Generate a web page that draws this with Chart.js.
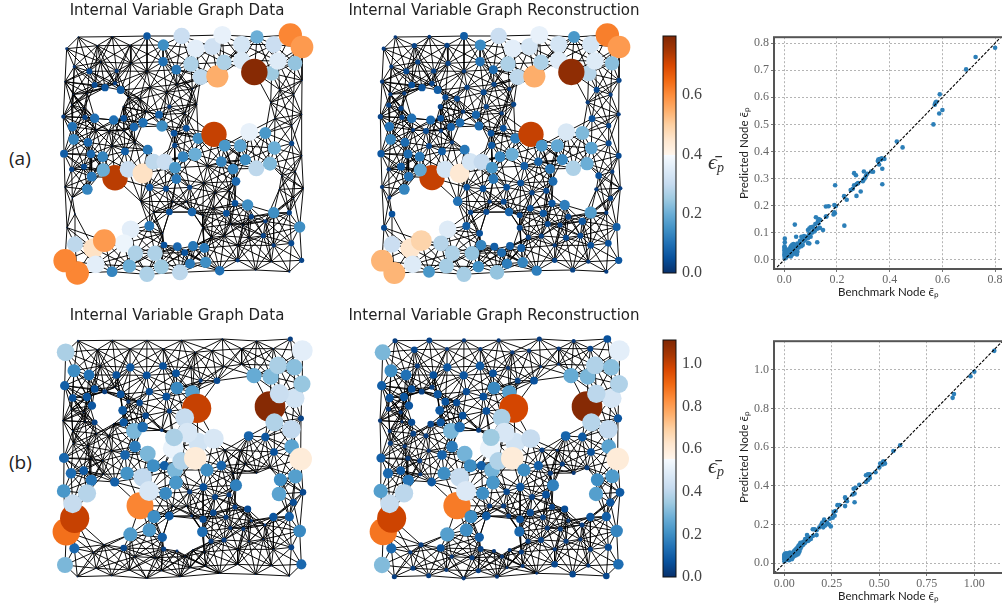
<!DOCTYPE html>
<html><head><meta charset="utf-8">
<script src="https://cdn.jsdelivr.net/npm/chart.js@4/dist/chart.umd.min.js"></script>
<style>
html,body{margin:0;padding:0;background:#fff;overflow:hidden;width:1002px;height:609px}
canvas{position:absolute;display:block}
.tag{position:absolute;font:19px "Open Sans",sans-serif;color:#222;left:9px}
</style></head><body>
<div class="tag" style="top:145px">(a)</div>
<div class="tag" style="top:449px">(b)</div>
<script>
// Panel (a) nodes
const nodeAX=[291,340,395,437,487,517,575,621,671,721,
756,339,379,423,452,502,522,575,665,613,
684,735,118,134,165,212,195,73,200,50,
40,105,134,191,221,67,252,279,327,336,
358,372,409,374,71,114,42,123,158,225,
293,65,102,125,112,195,160,234,278,310,
344,375,379,299,348,419,399,435,445,492,
598,646,524,571,673,725,514,586,549,619,
660,558,555,593,529,604,671,718,646,358,
426,298,749,640,724,671,755,563,718,342,
382,429,463,404,420,467,509,75,242,222,
130,163,82,45,137,186,238,256,315,291,
334,390];
const nodeAY=[108,135,108,145,140,105,133,111,134,105,
141,185,209,192,231,229,187,181,220,216,
183,190,214,255,263,270,250,200,213,146,
350,352,355,360,355,380,381,368,344,378,
320,400,385,436,418,427,461,462,470,454,
449,508,500,530,568,533,510,508,520,485,
486,503,537,562,566,562,470,463,415,403,
396,399,437,437,444,430,485,479,507,505,
491,544,610,615,640,650,638,638,664,636,
636,678,681,707,730,736,781,781,815,735,
740,738,744,758,791,787,812,733,688,730,
745,722,819,782,793,815,798,760,760,823,
800,817];
const nodeAData=[.06,.145,.31,.36,.32,.37,.33,.2,.31,.61,
.58,.1,.11,.27,.29,.55,.27,.34,.25,.79,
.35,.24,.04,.04,.06,.07,.02,.012,.02,.01,
.02,.03,.1,.1,.05,.1,.085,.1,.07,.145,
.02,.05,.05,.03,.13,.085,.07,.085,.13,.07,
.11,.03,.04,.11,.13,.73,.2,.31,.46,.29,
.31,.16,.11,.06,.04,.03,.13,.2,.145,.72,
.37,.16,.16,.18,.2,.03,.13,.145,.13,.29,
.22,.085,.05,.145,.05,.03,.145,.03,.02,.05,
.085,.11,.145,.03,.04,.02,.03,.02,.005,.05,
.085,.11,.11,.05,.11,.145,.1,.29,.36,.38,
.46,.58,.61,.61,.36,.13,.2,.27,.27,.27,
.25,.29];
const nodeARecon=[.07,.14,.31,.36,.33,.37,.33,.16,.33,.62,
.58,.1,.09,.27,.29,.55,.27,.35,.28,.78,
.35,.23,.04,.05,.06,.07,.03,.02,.03,.02,
.03,.03,.1,.09,.05,.1,.07,.09,.08,.09,
.03,.05,.05,.06,.13,.09,.06,.09,.11,.07,
.11,.02,.07,.1,.13,.72,.19,.33,.44,.33,
.3,.16,.11,.05,.05,.05,.13,.2,.12,.72,
.34,.22,.16,.19,.18,.04,.08,.14,.11,.27,
.2,.09,.06,.12,.06,.04,.17,.02,.06,.04,
.08,.07,.07,.04,.05,.05,.06,.03,.02,.13,
.07,.07,.07,.09,.12,.13,.12,.31,.35,.28,
.45,.49,.54,.54,.35,.16,.26,.27,.24,.26,
.15,.24];
// Panel (a) nodes that are almost zero in the benchmark data
const meshAX=[85,187,240,142,152,243,291,45,300,350,
381,427,440,235,270,70,112,65,102,220,
288,404,138,177,222,255,186,472,461,272,
368,410,495,538,490,311,458,579,542,484,
523,597,563,617,664,338,458,51,75,67,
45,695,736,755,688,760,731,725,755,675,
662,731,689,756];
const meshAY=[111,110,136,137,186,190,214,245,262,277,
253,267,313,292,296,283,280,315,325,320,
335,340,390,393,392,427,438,498,549,604,
605,605,578,572,625,637,646,675,672,712,
708,713,736,810,785,700,683,683,642,593,
561,527,515,467,568,565,595,377,343,356,
307,284,269,241];
const meshARecon=[.015,.015,.03,.03,.03,.03,.02,.02,.03,.04,
.03,.02,.03,.04,.04,.02,.02,.03,.03,.03,
.02,.02,.02,.04,.02,.02,.04,.07,.05,.1,
.02,.04,.03,.04,.05,.03,.04,.03,.04,.03,
.03,.04,.02,.03,.02,.05,.04,.04,.05,.02,
.02,.05,.02,.04,.02,.02,.03,.03,.02,.05,
.02,.02,.04,.03];
// Panel (b) nodes
const nodeBX=[84,47,72,117,44,68,111,134,164,212,
126,199,241,290,339,378,381,427,298,349,
235,269,218,287,358,440,404,660,734,688,
134,221,252,278,445,412,370,372,491,255,
225,293,42,63,101,124,194,231,278,310,
343,375,394,436,471,514,378,347,270,297,
312,358,241,298,337,457,221,341,73,45,
49,74,68,111,41,558,691,736,687,759,
730,718,670,749,724,754,612,662,684,733,
756,757,721,501,452,596,646,672,724,753,
673,725,752,460,419,495,537,555,593,490,
528,459,425,604,541,580,645,483,522,597,
640,381,335];
const nodeBY=[107,142,197,210,242,279,276,252,260,268,
302,210,187,211,183,205,249,262,260,275,
290,293,316,332,318,310,338,305,280,266,
352,352,378,366,413,383,430,397,401,425,
450,446,459,505,497,526,531,505,517,482,
482,495,468,460,495,482,533,565,602,558,
635,633,688,675,697,680,729,732,730,780,
680,640,596,565,558,541,524,514,567,562,
592,635,636,678,727,778,212,215,181,187,
237,137,102,227,227,393,396,441,373,340,
352,425,462,546,560,576,569,606,612,623,
637,643,633,647,669,672,660,709,705,709,
703,738,376];
const nodeBData=[.005,.37,.2,.14,.1,.07,.08,.07,.03,.07,
.08,.07,.08,.07,.07,.07,.19,.24,.06,.07,
.02,.05,.09,.05,.03,1.0,.42,1.1,.45,.43,
.04,.08,.3,.13,.45,.47,.52,.37,.47,.16,
.11,.3,.12,.13,.09,.15,.1,.21,.41,.2,
.1,.3,.38,.6,.2,.11,.22,.19,.85,.47,
.2,.09,.23,.22,.1,.13,.05,.03,.12,.3,
.89,1.0,.42,.39,.22,.17,.2,.24,.25,.05,
.06,.1,.08,.19,.04,.12,.27,.31,.37,.32,
.34,.5,.03,.05,.02,.11,.08,.07,.41,.04,
.38,.25,.6,.07,.03,.04,.03,.03,.06,.05,
.03,.06,.01,.01,.02,.02,.01,.03,.03,.005,
.004,.01,.015];
const nodeBRecon=[.03,.3,.2,.14,.1,.08,.08,.07,.04,.08,
.08,.07,.08,.08,.09,.07,.19,.24,.06,.07,
.07,.06,.09,.07,.07,.98,.37,1.1,.46,.4,
.06,.08,.3,.13,.45,.47,.52,.35,.42,.16,
.11,.29,.1,.12,.09,.15,.09,.2,.42,.2,
.1,.29,.38,.6,.2,.1,.22,.2,.87,.48,
.2,.09,.24,.2,.1,.12,.07,.04,.12,.31,
.88,.99,.42,.4,.24,.17,.2,.23,.24,.09,
.08,.1,.08,.18,.06,.13,.27,.3,.38,.32,
.38,.5,.07,.07,.04,.11,.09,.07,.41,.08,
.39,.25,.6,.08,.05,.04,.07,.04,.06,.06,
.04,.07,.03,.02,.03,.03,.03,.03,.04,.03,
.02,.02,.03];
const meshBX=[187,291,395,517,620,142,240,340,436,486,
575,670,151,423,521,575,195,64,101,39,
105,191,139,68,177,70,113,185,123,158,
160,525,571,620,586,660,550,368,410,162,
130,254,315,405,428,463,563,670,138,238,
334,420,467,509,563,664,82,185,290,390,
617,718];
const meshBY=[106,106,106,102,108,134,132,132,142,137,
131,131,183,189,185,178,247,312,322,347,
350,357,386,378,392,415,424,437,460,467,
508,435,436,504,477,488,505,603,603,719,
742,755,758,755,735,741,733,733,790,795,
797,788,783,805,778,782,815,812,820,815,
808,813];
const meshBRecon=[.04,.02,.02,.03,.02,.05,.02,.02,.02,.02,
.02,.04,.03,.02,.01,.01,.03,.03,.02,.02,
.01,.05,.04,.02,.03,.03,.02,.02,.03,.03,
.02,.03,.01,.02,.03,.03,.03,.03,.03,.03,
.02,.02,.03,.02,.02,.03,.02,.03,.03,.02,
.03,.01,.02,.01,.05,.02,.03,.03,.02,.02,
.05,.05];
const meshBenchmarkValue=0.002;
// Openings in the part: no connection crosses them
const holeAX=[175,320,400,170,625,550], holeAY=[310,420,690,630,550,310], holeAR=[46,40,52,88,64,98];
const holeBX=[172,320,398,165,625,555], holeBY=[312,420,690,620,560,310], holeBR=[44,40,52,74,62,88];
// Benchmark vs predicted scatter
const scatterAX=[.8,.726,.69,.59,.577,.574,.571,.588,.6,.566,.427,.449,.355,.357,.362,.368,.37,.38,.372,.36,.372,.302,.33,.337,.31,.315,.305,.3,.298,.265,.272,.28,.275,.265,.252,.26,.29,.274,.193,.227,.237,.228,.19,.195,.158,.168,.192,.19,.187,.16,.158,.136,.13,.12,.127,.13,.118,.147,.135,.125,.125,.04,.045,.108,.1,.095,.09,.112,.115,.105,.095,.1,.09,.085,.095,.09,.075,.07,.065,.06,.075,.07,.065,.055,.05,.045,.04,.035,.03,.03,.025,.04,.035,.03,.025,.02,.045,.05,.048,.02,.025,.015,.01,.008,.005,.002,.002,.001,.001,.001,.001,.002,.001,.001,.001,.002,.002,.005,.008,.012,.015,.018,.022,.03,.03,.035,.06,.08,.055];
const scatterAY=[.783,.749,.703,.611,.583,.581,.573,.54,.553,.5,.437,.415,.365,.37,.372,.37,.375,.372,.336,.352,.279,.326,.326,.325,.31,.318,.3,.295,.29,.32,.312,.283,.28,.275,.258,.262,.252,.236,.275,.235,.222,.126,.202,.198,.197,.198,.172,.175,.167,.16,.16,.148,.15,.157,.14,.135,.132,.11,.118,.115,.065,.13,.085,.122,.12,.115,.11,.11,.105,.1,.095,.085,.08,.085,.06,.062,.088,.08,.085,.07,.07,.055,.05,.055,.06,.05,.055,.058,.055,.048,.05,.04,.035,.03,.025,.03,.03,.03,.02,.018,.012,.015,.02,.01,.012,.078,.065,.05,.045,.04,.035,.03,.025,.02,.015,.01,.005,.025,.032,.038,.025,.035,.042,.04,.02,.022,.062,.075,.045];
const scatterBX=[1.105,1,.98,.893,.886,.61,.574,.53,.525,.517,.505,.5,.52,.48,.44,.43,.45,.45,.44,.43,.395,.375,.365,.37,.36,.37,.32,.325,.33,.32,.28,.29,.27,.26,.265,.255,.24,.245,.235,.225,.21,.2,.215,.205,.185,.195,.16,.15,.17,.17,.15,.14,.12,.125,.13,.11,.1,.11,.125,.085,.09,.08,.075,.07,.065,.06,.085,.08,.075,.07,.06,.05,.05,.04,.045,.035,.03,.025,.02,.015,.01,.005,.001,.001,.001,.001,.001,.001,.001,.005,.01,.01,.015,.02,.02,.025,.03,.03,.04,.05,.06,.07,.08,.09,.1,.055,.065];
const scatterBY=[1.098,.99,.967,.875,.855,.61,.58,.515,.525,.51,.515,.495,.525,.47,.46,.455,.46,.44,.43,.42,.405,.39,.385,.36,.355,.315,.34,.33,.32,.295,.3,.3,.27,.265,.245,.235,.23,.19,.2,.21,.225,.21,.195,.185,.185,.2,.175,.175,.17,.145,.14,.125,.145,.135,.12,.125,.11,.105,.115,.105,.1,.095,.09,.08,.075,.07,.075,.06,.05,.045,.055,.06,.045,.04,.03,.05,.055,.05,.05,.05,.05,.05,.045,.04,.035,.03,.025,.02,.01,.015,.025,.04,.02,.025,.035,.015,.025,.035,.02,.035,.04,.065,.08,.085,.095,.065,.06];
// Ticks and ranges
const ticksAX=[0,.2,.4,.6,.8], ticksAY=[0,.1,.2,.3,.4,.5,.6,.7,.8];
const ticksBX=[0,.25,.5,.75,1], ticksBY=[0,.2,.4,.6,.8,1];
const barTicksA=[0,.2,.4,.6], barTicksB=[0,.2,.4,.6,.8,1];
const vmaxA=0.8, vmaxB=1.1125;
const blues=['#08306b','#08519c','#2171b5','#4292c6','#6baed6','#9ecae1','#c6dbef','#deebf7','#f7fbff'];
const oranges=['#fff5eb','#fee6ce','#fdd0a2','#fdae6b','#fd8d3c','#f16913','#d94801','#a63603','#7f2704'];
const SERIF='"Liberation Serif",serif', SANS='Lato,sans-serif';

Chart.defaults.animation=false;
Chart.defaults.responsive=false;
Chart.defaults.plugins.legend.display=false;
Chart.defaults.plugins.tooltip.enabled=false;

function hex(c){return [1,3,5].map(i=>parseInt(c.slice(i,i+2),16));}
function colour(v,vmax){
  const t=Math.min(1,Math.max(0,v/vmax));
  let a,b,f;
  if(t<.5){const p=t*2*8,i=Math.min(7,Math.floor(p));a=blues[i];b=blues[i+1];f=p-i;}
  else{const p=(t-.5)*2*8,i=Math.min(7,Math.floor(p));a=oranges[i];b=oranges[i+1];f=p-i;}
  const A=hex(a),B=hex(b);
  return 'rgb('+A.map((x,k)=>Math.round(x+(B[k]-x)*f)).join(',')+')';
}
function makeCanvas(l,t,w,h){const c=document.createElement('canvas');c.width=w;c.height=h;c.style.left=l+'px';c.style.top=t+'px';c.style.width=w+'px';c.style.height=h+'px';document.body.appendChild(c);return c;}

// Connections: each node joins its nearest neighbours, never across an opening
function connect(xs,ys,hx,hy,hr,k,maxLen){
  const seen=new Set(),seg=[];
  function crosses(i,j){
    for(let h=0;h<hx.length;h++){
      const dx=xs[j]-xs[i],dy=ys[j]-ys[i];
      const u0=((hx[h]-xs[i])*dx+(hy[h]-ys[i])*dy)/(dx*dx+dy*dy);
      const u=Math.max(0,Math.min(1,u0));
      const endHit=u0<=0||u0>=1;
      if(!endHit&&Math.hypot(xs[i]+u*dx-hx[h],ys[i]+u*dy-hy[h])<hr[h]) return true;
    }
    return false;
  }
  xs.forEach((x,i)=>{
    const d=xs.map((xx,j)=>[Math.hypot(xx-x,ys[j]-ys[i]),j]).filter(p=>p[1]!==i).sort((p,q)=>p[0]-q[0]);
    let n=0;
    for(const [dist,j] of d){
      if(n>=k||dist>maxLen) break;
      if(crosses(i,j)) continue;
      n++;
      const key=Math.min(i,j)+'_'+Math.max(i,j);
      if(!seen.has(key)){seen.add(key);seg.push({x:xs[i],y:ys[i]},{x:xs[j],y:ys[j]},{x:NaN,y:NaN});}
    }
  });
  return seg;
}

function graph(left,top,title,xs,ys,vals,vmax,segs,c){
  new Chart(makeCanvas(left,top,314,295),{
    type:'scatter',
    data:{datasets:[
      {data:xs.map((x,i)=>({x,y:ys[i]})),order:1,clip:false,
       pointRadius:vals.map(v=>c*Math.sqrt(v)),
       pointBackgroundColor:vals.map(v=>colour(v,vmax)),
       pointBorderWidth:0,showLine:false},
      {data:segs,order:2,showLine:true,spanGaps:false,pointRadius:0,borderColor:'#000',borderWidth:.95,clip:false}
    ]},
    options:{
      layout:{padding:0,autoPadding:false},
      plugins:{title:{display:true,text:title,color:'#222',font:{family:'"DejaVu Sans"',size:15,weight:'normal'},padding:{top:2,bottom:2}}},
      scales:{
        x:{type:'linear',display:false,min:-90,max:852},
        y:{type:'linear',display:false,reverse:true,min:66,max:885}
      }
    }
  });
}
const frame={id:'frame',afterDraw(ch){const a=ch.chartArea,x=ch.ctx;x.save();x.strokeStyle='#555';x.lineWidth=2;x.strokeRect(a.left,a.top,a.right-a.left,a.bottom-a.top);x.restore();}};
const barFrame={id:'barFrame',afterDraw(ch){const a=ch.chartArea,x=ch.ctx;x.save();x.strokeStyle='#111';x.lineWidth=1;x.strokeRect(a.left,a.top,a.right-a.left,a.bottom-a.top);x.restore();}};
function scatter(top,xs,ys,tx,ty,xr,yr,dec){
  const grid={color:'#b4b4b4',lineWidth:1,tickColor:'#777',tickLength:3};
  const tfont={family:SERIF,size:12};
  new Chart(makeCanvas(735,top,275,272),{
    type:'scatter',
    data:{datasets:[
      {data:[{x:xr[0],y:xr[0]},{x:xr[1],y:xr[1]}],order:1,showLine:true,pointRadius:0,borderColor:'#000',borderWidth:1.1,borderDash:[3,1.5]},
      {data:xs.map((x,i)=>({x,y:ys[i]})),order:2,pointRadius:2.3,pointBackgroundColor:'#2c7fb8',pointBorderWidth:0}
    ]},
    plugins:[frame],
    options:{
      layout:{padding:{top:6,right:7,left:0,bottom:0},autoPadding:false},
      scales:{
        x:{type:'linear',min:xr[0],max:xr[1],grid,border:{display:false,dash:[2,2]},
           afterBuildTicks:s=>{s.ticks=tx.map(value=>({value}));},
           afterFit:s=>{s.height=31;},
           ticks:{font:tfont,color:'#666',padding:1,maxRotation:0,autoSkip:false,callback:v=>v.toFixed(dec)},
           title:{display:true,text:'Benchmark Node ϵ̄ₚ',color:'#222',font:{family:SANS,size:11.5},padding:{top:0,bottom:1}}},
        y:{type:'linear',min:yr[0],max:yr[1],grid,border:{display:false,dash:[2,2]},
           afterBuildTicks:s=>{s.ticks=ty.map(value=>({value}));},
           afterFit:s=>{s.width=39;},
           ticks:{font:tfont,color:'#666',padding:2,autoSkip:false,callback:v=>v.toFixed(1)},
           title:{display:true,text:'Predicted Node ϵ̄ₚ',color:'#222',font:{family:SANS,size:11.5},padding:{top:2,bottom:0}}}
      }
    }
  });
}
function colourbar(top,h,vmax,ticks){
  const label={id:'lab',afterDraw(ch){const a=ch.chartArea,x=ch.ctx;x.save();x.fillStyle='#333';x.textBaseline='middle';x.textAlign='left';
    x.font='italic 22px '+SERIF;x.fillText('ϵ̄',53,(a.top+a.bottom)/2+9);
    x.font='italic 14px '+SERIF;x.fillText('p',62,(a.top+a.bottom)/2+14);x.restore();}};
  new Chart(makeCanvas(655,top-14,90,h+28),{
    type:'bar',
    data:{labels:['ϵ̄p'],datasets:[{data:[[0,vmax]],barPercentage:1,categoryPercentage:1,borderWidth:0,
      backgroundColor:ctx=>{const a=ctx.chart.chartArea;if(!a)return '#fff';const g=ctx.chart.ctx.createLinearGradient(0,a.bottom,0,a.top);
        blues.forEach((c,i)=>g.addColorStop(i/16,c));oranges.forEach((c,i)=>g.addColorStop(.5+i/16,c));return g;}}]},
    plugins:[barFrame,label],
    options:{
      layout:{padding:{left:8,top:14,bottom:14,right:0},autoPadding:false},
      scales:{
        x:{display:false},
        y:{position:'right',min:0,max:vmax,grid:{display:false,drawTicks:true,tickLength:5,tickColor:'#000'},border:{display:false},
           afterBuildTicks:s=>{s.ticks=ticks.map(value=>({value}));},
           afterFit:s=>{s.width=69;},
           ticks:{font:{family:SERIF,size:16},color:'#444',padding:1,callback:v=>v.toFixed(1)}}
      }
    }
  });
}
const allAX=nodeAX.concat(meshAX), allAY=nodeAY.concat(meshAY);
const allBX=nodeBX.concat(meshBX), allBY=nodeBY.concat(meshBY);
const segsA=connect(allAX,allAY,holeAX,holeAY,holeAR,11,125);
const segsB=connect(allBX,allBY,holeBX,holeBY,holeBR,11,125);
const zeroA=meshAX.map(()=>meshBenchmarkValue), zeroB=meshBX.map(()=>meshBenchmarkValue);
graph(20,0,'Internal Variable Graph Data',allAX,allAY,nodeAData.concat(zeroA),vmaxA,segsA,14.9);
graph(337,0,'Internal Variable Graph Reconstruction',allAX,allAY,nodeARecon.concat(meshARecon),vmaxA,segsA,14.9);
graph(20,305,'Internal Variable Graph Data',allBX,allBY,nodeBData.concat(zeroB),vmaxB,segsB,14.6);
graph(337,305,'Internal Variable Graph Reconstruction',allBX,allBY,nodeBRecon.concat(meshBRecon),vmaxB,segsB,14.6);
colourbar(35.7,237.6,vmaxA,barTicksA);
colourbar(340,237.3,vmaxB,barTicksB);
scatter(28,scatterAX,scatterAY,ticksAX,ticksAY,[-.039,.83],[-.034,.822],1);
scatter(332.3,scatterBX,scatterBY,ticksBX,ticksBY,[-.054,1.151],[-.051,1.148],2);
</script>
</body></html>
